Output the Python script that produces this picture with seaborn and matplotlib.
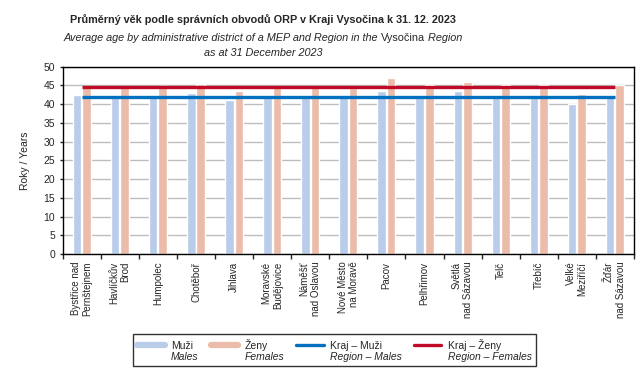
import matplotlib
matplotlib.use("Agg")
import matplotlib.pyplot as plt
from matplotlib.lines import Line2D
from matplotlib.ticker import MultipleLocator, FixedLocator
import seaborn as sns
import numpy as np
import pandas as pd

# Average age by ORP district, Vysocina region, 31 Dec 2023
districts = ["Bystřice nad\nPernštejnem", "Havlíčkův\nBrod", "Humpolec", "Chotěboř", "Jihlava",
             "Moravské\nBudějovice", "Náměšť\nnad Oslavou", "Nové Město\nna Moravě", "Pacov",
             "Pelhřimov", "Světlá\nnad Sázavou", "Telč", "Třebíč", "Velké\nMeziříčí", "Žďár\nnad Sázavou"]
males = [42.4, 41.9, 41.8, 43.0, 41.1, 42.0, 42.0, 41.8, 43.5, 42.4, 43.5, 41.8, 42.4, 40.0, 41.8]
females = [44.7, 44.6, 44.8, 45.4, 43.5, 44.6, 44.6, 44.2, 47.0, 45.0, 45.9, 45.0, 45.0, 42.7, 45.0]
region_males = 41.8
region_females = 44.5

sex_labels = ["Muži", "Ženy"]
legend_cz = ["Muži", "Ženy", "Kraj – Muži", "Kraj – Ženy"]
legend_en = ["Males", "Females", "Region – Males", "Region – Females"]

c_m, c_f = "#B9CCEA", "#EBBCAA"
c_rm, c_rf = "#0070C0", "#C00A28"

df = pd.DataFrame({
    "district": districts * 2,
    "age": males + females,
    "sex": [sex_labels[0]] * len(districts) + [sex_labels[1]] * len(districts),
})

sns.set_style("white")
plt.rcParams["font.family"] = ["Liberation Sans", "DejaVu Sans"]

fig = plt.figure(figsize=(6.42, 3.76), dpi=100)
ax = fig.add_axes([0.0977, 0.3245, 0.8898, 0.4981])

sns.barplot(data=df, x="district", y="age", hue="sex", hue_order=sex_labels,
            palette=[c_m, c_f], width=0.5, gap=0.1, saturation=1, legend=False, ax=ax)

n = len(districts)
ax.hlines(region_males, 0, n - 1, color=c_rm, lw=2.4, zorder=5)
ax.hlines(region_females, 0, n - 1, color=c_rf, lw=2.4, zorder=5)

ax.set_xlim(-0.5, n - 0.5)
ax.set_ylim(0, 50)
ax.yaxis.set_major_locator(MultipleLocator(5))
ax.yaxis.grid(True, color="#BDBDBD", lw=1)
ax.set_axisbelow(True)
for s in ax.spines.values():
    s.set_color("black")
    s.set_linewidth(1)

ax.set_xlabel("")
ax.set_ylabel("Roky / Years", fontsize=7.5)
ax.yaxis.set_label_coords(-0.058, 0.5)
ax.tick_params(axis="y", labelsize=7.5, length=2.5, width=1, pad=3, left=True, direction="out")
ax.tick_params(axis="x", which="major", length=0, pad=5.5, labelsize=7)
ax.xaxis.set_minor_locator(FixedLocator(np.arange(-0.5, n, 1.0)))
ax.tick_params(axis="x", which="minor", length=3.4, width=1, bottom=True, direction="out")
for lab in ax.get_xticklabels():
    lab.set_rotation(90)
    lab.set_ha("center")
    lab.set_va("top")
    lab.set_multialignment("right")

# legend: czech row + italic english row
handles = [Line2D([], [], color=c_m, lw=4.5), Line2D([], [], color=c_f, lw=4.5),
           Line2D([], [], color=c_rm, lw=2.4), Line2D([], [], color=c_rf, lw=2.4)]
blank = Line2D([], [], color="none")
h_all, l_all = [], []
for h, cz, en in zip(handles, legend_cz, legend_en):
    h_all += [h, blank]
    l_all += [cz, en]
leg = fig.legend(h_all, l_all, ncol=4, loc="center", bbox_to_anchor=(0.521, 0.068),
                 fontsize=7.5, frameon=True, fancybox=False, edgecolor="black",
                 handlelength=2.6, handletextpad=0.6, columnspacing=1.2, labelspacing=0.15,
                 borderpad=0.4)
leg.get_frame().set_linewidth(1)
for i, t in enumerate(leg.get_texts()):
    if i % 2 == 1:
        t.set_style("italic")

# titles with mixed styles, centred on x=263 px
renderer = fig.canvas.get_renderer()
cx = 263 / 642


def centred_line(parts, y, size, weight="normal"):
    texts = [fig.text(0, y, s, fontsize=size, style=st, weight=weight, ha="left", va="center")
             for s, st in parts]
    widths = [t.get_window_extent(renderer).width / fig.bbox.width for t in texts]
    x = cx - sum(widths) / 2
    for t, w in zip(texts, widths):
        t.set_x(x)
        x += w


centred_line([("Průměrný věk podle správních obvodů ORP v Kraji Vysočina k 31. 12. 2023", "normal")],
             1 - 20 / 376, 7.8, weight="bold")
centred_line([("Average age by administrative district of a MEP and Region in the ", "italic"),
              ("Vysočina", "normal"), (" Region", "italic")], 1 - 38 / 376, 7.8)
centred_line([("as at 31 December 2023", "italic")], 1 - 53 / 376, 7.8)

fig.savefig("out.png", dpi=100)
